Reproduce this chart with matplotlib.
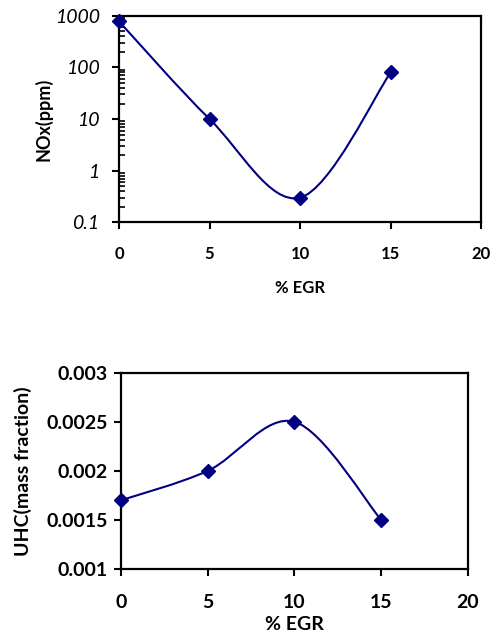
import numpy as np
import matplotlib
matplotlib.use("Agg")
import matplotlib.pyplot as plt
from matplotlib.path import Path
from matplotlib.patches import PathPatch

# Data
egr = [0, 5, 10, 15]
nox_ppm = [780, 10, 0.3, 80]
uhc_frac = [0.0017, 0.0020, 0.0025, 0.0015]

line_col = '#000080'
plt.rcParams['font.family'] = ['Lato', 'DejaVu Sans']


def smooth_path(x, y, logy=False):
    # Excel-style smoothed line: cubic Bezier segments (Catmull-Rom control points)
    x = np.asarray(x, float)
    yy = np.log10(y) if logy else np.asarray(y, float)
    n = len(x)
    verts = [(x[0], yy[0])]
    codes = [Path.MOVETO]
    for i in range(n - 1):
        p0 = i - 1 if i > 0 else i
        p3 = i + 2 if i + 2 < n else i + 1
        c1 = (x[i] + (x[i + 1] - x[p0]) / 6, yy[i] + (yy[i + 1] - yy[p0]) / 6)
        c2 = (x[i + 1] - (x[p3] - x[i]) / 6, yy[i + 1] - (yy[p3] - yy[i]) / 6)
        verts += [c1, c2, (x[i + 1], yy[i + 1])]
        codes += [Path.CURVE4] * 3
    verts = np.array(verts)
    if logy:
        verts[:, 1] = 10 ** verts[:, 1]
    return Path(verts, codes)


fig = plt.figure(figsize=(4.92, 6.35), dpi=100)

# ---- NOx chart (log scale) ----
ax1 = fig.add_axes([0.242, 0.650, 0.736, 0.325])
ax1.set_yscale('log')
ax1.add_patch(PathPatch(smooth_path(egr, nox_ppm, logy=True), fill=False,
                        edgecolor=line_col, lw=1.5, zorder=3))
ax1.plot(egr, nox_ppm, linestyle='none', marker='D', markersize=7.5,
         color=line_col, zorder=4, clip_on=False)
ax1.set_xlim(0, 20)
ax1.set_ylim(0.1, 1000)
ax1.set_xticks([0, 5, 10, 15, 20])
ax1.set_yticks([0.1, 1, 10, 100, 1000])
ax1.set_yticklabels(['0.1', '1', '10', '100', '1000'], fontsize=14, style='italic')
ax1.set_xticklabels(['0', '5', '10', '15', '20'], fontsize=12, fontweight='bold')
ax1.tick_params(axis='both', which='major', direction='out', length=5, width=1.5)
ax1.tick_params(axis='x', which='major', pad=12)
ax1.tick_params(axis='y', which='major', pad=9)
ax1.tick_params(axis='y', which='minor', direction='in', length=4, width=1.2)
ax1.set_ylabel('NOx(ppm)', fontsize=13, fontweight='bold')
ax1.yaxis.set_label_coords(-0.185, 0.5)
ax1.set_xlabel('% EGR', fontsize=12, fontweight='bold')
ax1.xaxis.set_label_coords(0.5, -0.282)

# ---- UHC chart ----
ax2 = fig.add_axes([0.246, 0.104, 0.705, 0.309])
ax2.add_patch(PathPatch(smooth_path(egr, uhc_frac), fill=False,
                        edgecolor=line_col, lw=1.5, zorder=3))
ax2.plot(egr, uhc_frac, linestyle='none', marker='D', markersize=7.5,
         color=line_col, zorder=4, clip_on=False)
ax2.set_xlim(0, 20)
ax2.set_ylim(0.001, 0.003)
ax2.set_xticks([0, 5, 10, 15, 20])
ax2.set_yticks([0.001, 0.0015, 0.002, 0.0025, 0.003])
ax2.set_yticklabels(['0.001', '0.0015', '0.002', '0.0025', '0.003'],
                    fontsize=14, fontweight='bold')
ax2.set_xticklabels(['0', '5', '10', '15', '20'], fontsize=14, fontweight='bold')
ax2.tick_params(axis='both', which='major', direction='out', length=5, width=1.5)
ax2.tick_params(axis='x', which='major', pad=13)
ax2.tick_params(axis='y', which='major', pad=4.5)
ax2.set_ylabel('UHC(mass fraction)', fontsize=14, fontweight='bold')
ax2.yaxis.set_label_coords(-0.256, 0.5)
ax2.set_xlabel('% EGR', fontsize=14, fontweight='bold')
ax2.xaxis.set_label_coords(0.5, -0.24)

for ax in (ax1, ax2):
    for s in ax.spines.values():
        s.set_linewidth(1.6)
        s.set_color('black')

fig.savefig('out.png', dpi=100)
